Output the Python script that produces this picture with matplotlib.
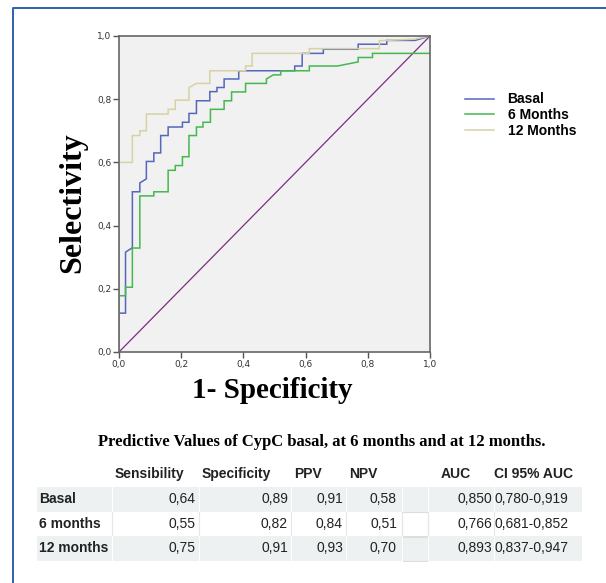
"""
ROC curves of CypC (basal, 6 months, 12 months) + predictive values table.
"""
import matplotlib
matplotlib.use("Agg")
import matplotlib.pyplot as plt
from matplotlib.patches import Rectangle
from matplotlib.lines import Line2D

W, H = 606, 583

# ROC step curves (1 - specificity, selectivity)
basal_fpr = [0, 0, 0.021, 0.021, 0.043, 0.043, 0.067, 0.067, 0.088, 0.088, 0.112, 0.112,
             0.134, 0.134, 0.158, 0.158, 0.204, 0.204, 0.225, 0.225, 0.249, 0.249, 0.292,
             0.292, 0.315, 0.315, 0.338, 0.338, 0.385, 0.385, 0.565, 0.565, 0.589, 0.589,
             0.657, 0.657, 0.769, 0.769, 0.861, 0.861, 0.952, 1.0]
basal_tpr = [0, 0.123, 0.123, 0.316, 0.33, 0.507, 0.507, 0.535, 0.548, 0.603, 0.603, 0.63,
             0.63, 0.685, 0.685, 0.712, 0.712, 0.727, 0.727, 0.755, 0.755, 0.795, 0.795,
             0.824, 0.824, 0.837, 0.837, 0.864, 0.864, 0.89, 0.89, 0.905, 0.905, 0.945,
             0.945, 0.958, 0.958, 0.974, 0.974, 0.986, 0.986, 1.0]

m6_fpr = [0, 0, 0.021, 0.021, 0.043, 0.043, 0.067, 0.067, 0.112, 0.112, 0.158, 0.158,
          0.181, 0.181, 0.204, 0.204, 0.225, 0.225, 0.249, 0.249, 0.270, 0.270, 0.294,
          0.294, 0.338, 0.338, 0.362, 0.362, 0.407, 0.407, 0.474, 0.474, 0.496, 0.52,
          0.52, 0.612, 0.612, 0.702, 0.769, 0.769, 0.815, 0.815, 1.0]
m6_tpr = [0, 0.178, 0.178, 0.205, 0.205, 0.329, 0.329, 0.494, 0.494, 0.507, 0.507, 0.575,
          0.575, 0.59, 0.59, 0.618, 0.618, 0.685, 0.685, 0.712, 0.712, 0.727, 0.727,
          0.768, 0.768, 0.795, 0.795, 0.823, 0.823, 0.85, 0.85, 0.864, 0.877, 0.877,
          0.89, 0.89, 0.905, 0.905, 0.918, 0.932, 0.932, 0.945, 0.945]

m12_fpr = [0, 0, 0.043, 0.043, 0.067, 0.067, 0.088, 0.088, 0.158, 0.158, 0.181, 0.181,
           0.225, 0.225, 0.249, 0.292, 0.292, 0.407, 0.407, 0.428, 0.428, 0.612, 0.612,
           0.837, 0.837, 0.95, 1.0]
m12_tpr = [0, 0.60, 0.60, 0.685, 0.685, 0.70, 0.70, 0.753, 0.753, 0.768, 0.768, 0.797,
           0.797, 0.837, 0.85, 0.85, 0.89, 0.89, 0.905, 0.905, 0.945, 0.945, 0.96,
           0.96, 0.985, 0.99, 1.0]

curve_labels = ["Basal", "6 Months", "12 Months"]
curve_colors = ["#5566bb", "#44b84e", "#d6d2a4"]

# table
table_title = "Predictive Values of CypC basal, at 6 months and at 12 months."
row_labels = ["Basal", "6 months", "12 months"]
col_labels = ["Sensibility", "Specificity", "PPV", "NPV", "", "AUC", "CI 95% AUC"]
sensibility = ["0,64", "0,55", "0,75"]
specificity = ["0,89", "0,82", "0,91"]
ppv = ["0,91", "0,84", "0,93"]
npv = ["0,58", "0,51", "0,70"]
auc = ["0,850", "0,766", "0,893"]
ci_auc = ["0,780-0,919", "0,681-0,852", "0,837-0,947"]


def fx(px):
    return px / W


def fy(py):
    return 1 - py / H


fig = plt.figure(figsize=(W / 100, H / 100), dpi=100)

# blue frame (left + top)
fig.add_artist(Line2D([fx(13), fx(13), fx(W + 5)], [fy(H + 5), fy(8), fy(8)],
                      color="#2f5fae", lw=1.4))

ax = fig.add_axes([fx(119), fy(352), fx(430) - fx(119), fy(36) - fy(352)])
ax.set_facecolor("#f1f1f1")
ax.plot([0, 1], [0, 1], color="#7e2b86", lw=0.9)
for fpr, tpr, lab, col in zip([basal_fpr, m6_fpr, m12_fpr], [basal_tpr, m6_tpr, m12_tpr],
                              curve_labels, curve_colors):
    ax.plot(fpr, tpr, color=col, lw=1.1, label=lab, solid_joinstyle="miter")
ax.set_xlim(0, 1)
ax.set_ylim(0, 1)
ticks = [0, 0.2, 0.4, 0.6, 0.8, 1.0]
ax.set_xticks(ticks)
ax.set_yticks(ticks)
ax.set_xticklabels([f"{t:.1f}".replace(".", ",") for t in ticks])
ax.set_yticklabels([f"{t:.1f}".replace(".", ",") for t in ticks])
ax.tick_params(direction="out", length=4, width=1, color="#555555", labelsize=6.5,
               labelcolor="#333333", pad=1.5)
for s in ax.spines.values():
    s.set_color("#666666")
    s.set_linewidth(1.2)

serif = ["Liberation Serif", "DejaVu Serif"]
sans = ["Liberation Sans", "DejaVu Sans"]
fig.text(fx(272), fy(391), "1- Specificity", family=serif, weight="bold", size=21,
         ha="center", va="center")
fig.text(fx(73), fy(203), "Selectivity", family=serif, weight="bold", size=23,
         rotation=90, ha="center", va="center")

leg = ax.legend(loc="upper left", bbox_to_anchor=(fx(452), fy(80)),
                bbox_transform=fig.transFigure, frameon=False, handlelength=2.1,
                handletextpad=1.0, labelspacing=0.12,
                prop={"family": sans, "weight": "bold", "size": 10})

# table
fig.text(fx(322), fy(442), table_title, family=serif, weight="bold", size=12,
         ha="center", va="center")

left, right = 37, 582
row_y = [474, 499, 524, 548]
band_h = 25
shade = "#edf1f1"
for i, yc in enumerate(row_y):
    if i in (1, 3):
        fig.add_artist(Rectangle((fx(left), fy(yc + band_h / 2)), fx(right) - fx(left),
                                 band_h / H, color=shade, lw=0))
# separators in body rows
col_edges = [112, 199, 291, 346, 402, 428, 494]
for i, yc in enumerate(row_y[1:], start=1):
    for xe in col_edges:
        c = "white" if i in (1, 3) else "#e6e6e6"
        fig.add_artist(Line2D([fx(xe), fx(xe)], [fy(yc - band_h / 2), fy(yc + band_h / 2)],
                              color=c, lw=0.8))
# faint box in empty column
for yc in row_y[2:]:
    fig.add_artist(Rectangle((fx(402), fy(yc + band_h / 2)), fx(428) - fx(402), band_h / H,
                             fill=False, ec="#dddddd", lw=0.8))

hdr_x = [115, 202, 294, 349, None, 441, 494]
for lab, xh in zip(col_labels, hdr_x):
    if lab:
        fig.text(fx(xh), fy(row_y[0]), lab, family=sans, weight="bold", size=10,
                 ha="left", va="center", color="#222222")

val_x = [196, 288, 343, 397, 492]
for r, lab in enumerate(row_labels):
    yc = row_y[r + 1]
    fig.text(fx(39), fy(yc), lab, family=sans, weight="bold", size=10, ha="left",
             va="center", color="#222222")
    for col, xv in zip([sensibility, specificity, ppv, npv, auc], val_x):
        fig.text(fx(xv), fy(yc), col[r], family=sans, size=10, ha="right", va="center",
                 color="#222222")
    fig.text(fx(495), fy(yc), ci_auc[r], family=sans, size=10, ha="left", va="center",
             color="#222222")

fig.savefig("out.png", dpi=100)
